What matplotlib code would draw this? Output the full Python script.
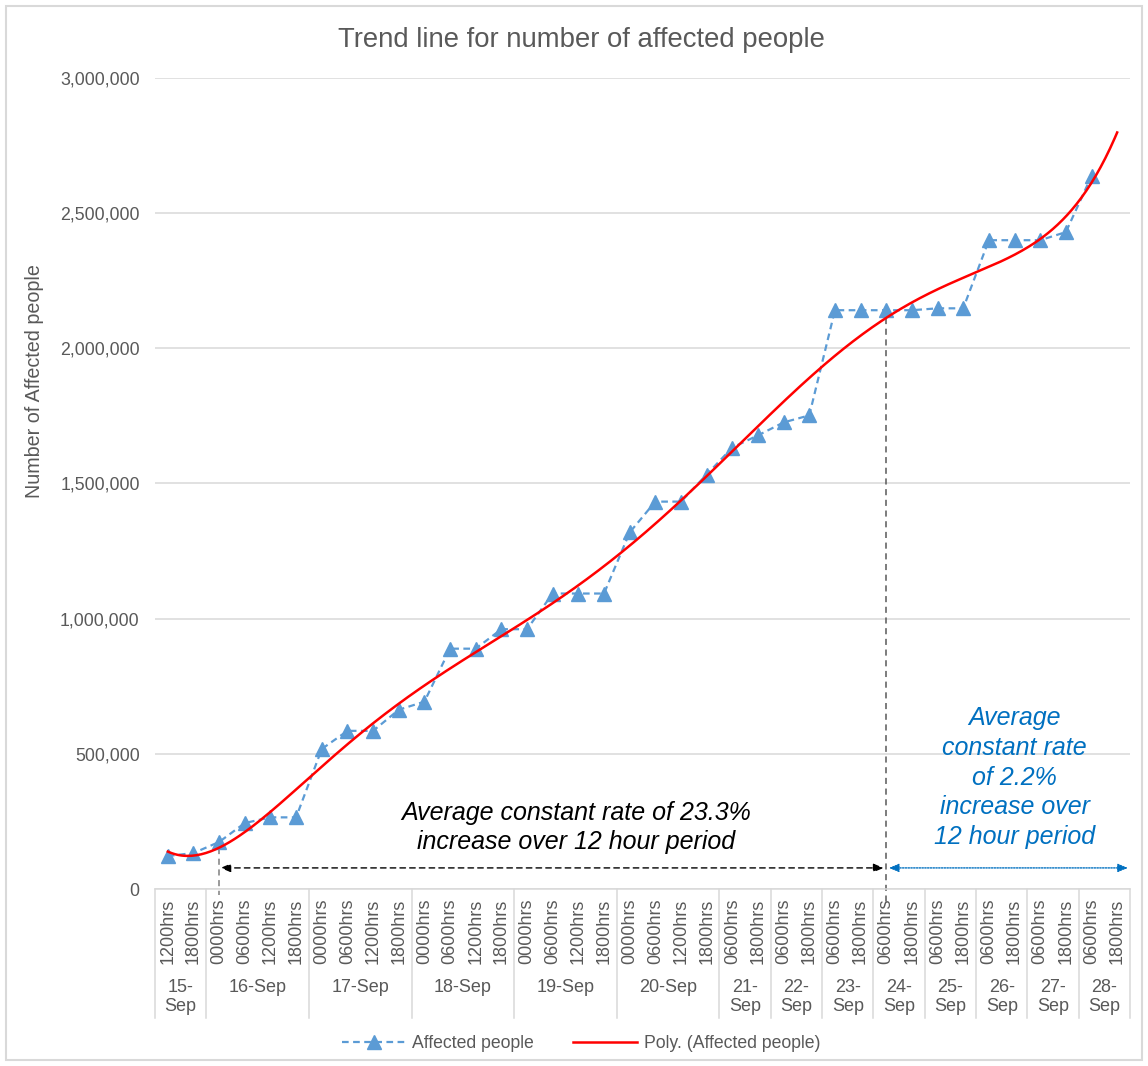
import numpy as np
import matplotlib
matplotlib.use("Agg")
import matplotlib.pyplot as plt
from matplotlib.lines import Line2D
from matplotlib.patches import Rectangle
from matplotlib.ticker import FuncFormatter

plt.rcParams['font.family'] = ['Liberation Sans', 'DejaVu Sans']

# Reporting times (inner axis level) and the days they belong to (outer level)
hour_labels = ["1200hrs", "1800hrs",
               "0000hrs", "0600hrs", "1200hrs", "1800hrs",
               "0000hrs", "0600hrs", "1200hrs", "1800hrs",
               "0000hrs", "0600hrs", "1200hrs", "1800hrs",
               "0000hrs", "0600hrs", "1200hrs", "1800hrs",
               "0000hrs", "0600hrs", "1200hrs", "1800hrs",
               "0600hrs", "1800hrs", "0600hrs", "1800hrs",
               "0600hrs", "1800hrs", "0600hrs", "1800hrs",
               "0600hrs", "1800hrs", "0600hrs", "1800hrs",
               "0600hrs", "1800hrs", "0600hrs", "1800hrs"]
day_labels = ["15-\nSep", "16-Sep", "17-Sep", "18-Sep", "19-Sep", "20-Sep",
              "21-\nSep", "22-\nSep", "23-\nSep", "24-\nSep", "25-\nSep",
              "26-\nSep", "27-\nSep", "28-\nSep"]
day_sizes = [2, 4, 4, 4, 4, 4, 2, 2, 2, 2, 2, 2, 2, 2]

# Reported number of affected people at each reporting time
affected = [122000, 133000, 174000, 244000, 265000, 265000,
            518000, 585000, 585000, 663000, 693000,
            889000, 889000, 961000, 961000,
            1093000, 1093000, 1093000,
            1319000, 1433000, 1433000,
            1533000, 1633000, 1678000, 1726000, 1752000,
            2141000, 2141000, 2141000, 2141000, 2148000, 2148000,
            2400000, 2400000, 2400000, 2430000, 2637000]

poly_order = 6
rate_start_idx = 2     # 16-Sep 0000hrs
rate_change_idx = 28   # 24-Sep 0600hrs

W, H = 1148, 1066
fig = plt.figure(figsize=(W / 100, H / 100), dpi=100)
L, R, T, B = 155, 1130, 78, 889
ax = fig.add_axes([L / W, (H - B) / H, (R - L) / W, (B - T) / H])

grey = "#595959"
light = "#d9d9d9"
blue = "#5B9BD5"

n_cat = len(hour_labels)
x_data = np.arange(len(affected))

# polynomial trend line fitted to reported values (1-based category index)
coef = np.polyfit(x_data + 1.0, np.array(affected, dtype=float), poly_order)
x_fine = np.linspace(0, n_cat - 1, 400)
trend = np.polyval(coef, x_fine + 1.0)

ax.plot(x_data, affected, linestyle=(0, (3, 2)), color=blue, lw=1.6,
        marker="^", markersize=10, markerfacecolor=blue, markeredgecolor=blue,
        zorder=3)
ax.plot(x_fine, trend, color="#FF0000", lw=1.8, zorder=4)

ax.set_xlim(-0.5, n_cat - 0.5)
ax.set_ylim(0, 3000000)
ax.set_yticks(np.arange(0, 3000001, 500000))
ax.yaxis.set_major_formatter(FuncFormatter(lambda v, p: f"{int(v):,}"))
ax.tick_params(axis="y", length=0, pad=11, labelsize=12.8, labelcolor=grey)
ax.set_xticks([])
ax.grid(axis="y", color=light, lw=1.1)
ax.set_axisbelow(True)
for s in ["top", "right", "left"]:
    ax.spines[s].set_visible(False)
ax.spines["bottom"].set_color(light)
ax.spines["bottom"].set_linewidth(1.1)

# multi-level category axis
ph = B - T
tr = ax.get_xaxis_transform()
box_bottom = -(1018 - B) / ph
for i, lab in enumerate(hour_labels):
    ax.text(i, -(899 - B) / ph, lab, transform=tr, rotation=90, ha="center",
            va="top", fontsize=13, color=grey, clip_on=False)
edges = np.concatenate([[0], np.cumsum(day_sizes)]) - 0.5
for e in edges:
    ax.plot([e, e], [0, box_bottom], transform=tr, color=light, lw=1.1,
            clip_on=False)
for k, lab in enumerate(day_labels):
    c = (edges[k] + edges[k + 1]) / 2
    ax.text(c, -(979 - B) / ph, lab, transform=tr, ha="center", va="top",
            fontsize=13, color=grey, linespacing=1.12, clip_on=False)

# annotations
y_start = np.polyval(coef, rate_start_idx + 1.0)
y_change = np.polyval(coef, rate_change_idx + 1.0)
arrow_y = 78000
ax.plot([rate_start_idx, rate_start_idx], [y_start, -22000], color="#7f7f7f",
        lw=1.1, linestyle=(0, (4, 3)), clip_on=False, zorder=2)
ax.plot([rate_change_idx, rate_change_idx], [y_change, -60000], color="#595959",
        lw=1.1, linestyle=(0, (4, 3)), clip_on=False, zorder=2)
ax.annotate("", xy=(rate_start_idx + 0.05, arrow_y),
            xytext=(rate_change_idx - 0.1, arrow_y),
            arrowprops=dict(arrowstyle="<|-|>,head_length=0.6,head_width=0.25",
                            color="black", lw=1.0, linestyle=(0, (4, 3)),
                            shrinkA=0, shrinkB=0))
ax.annotate("", xy=(rate_change_idx + 0.1, arrow_y),
            xytext=(n_cat - 0.58, arrow_y),
            arrowprops=dict(arrowstyle="<|-|>,head_length=0.6,head_width=0.25",
                            color="#0070C0", lw=1.0, linestyle=(0, (1, 1)),
                            shrinkA=0, shrinkB=0), annotation_clip=False)
ax.text(15.9, 227000, "Average constant rate of 23.3%\nincrease over 12 hour period",
        ha="center", va="center", fontsize=18, style="italic", color="black",
        linespacing=1.3)
ax.text(33.0, 412000, "Average\nconstant rate\nof 2.2%\nincrease over\n12 hour period",
        ha="center", va="center", fontsize=18, style="italic", color="#0070C0",
        linespacing=1.3)

fig.text(581 / W, 1 - 40 / H, "Trend line for number of affected people",
         ha="center", va="center", fontsize=19.8, color=grey)
fig.text(35 / W, 1 - 381 / H, "Number of Affected people", rotation=90,
         ha="center", va="center", fontsize=14.2, color=grey)

handles = [Line2D([], [], linestyle=(0, (3, 2)), color=blue, lw=1.6, marker="^",
                  markersize=10, markerfacecolor=blue, markeredgecolor=blue),
           Line2D([], [], color="#FF0000", lw=1.8)]
leg = fig.legend(handles, ["Affected people", "Poly. (Affected people)"],
                 loc="center", bbox_to_anchor=(581 / W, 22 / H), ncol=2,
                 frameon=False, fontsize=12.7, handlelength=3.6,
                 columnspacing=2.2, handletextpad=0.4)
for t in leg.get_texts():
    t.set_color(grey)

fig.patches.append(Rectangle((6 / W, 6 / H), (W - 12) / W, (H - 12) / H,
                             transform=fig.transFigure, fill=False,
                             edgecolor=light, lw=1.5))

fig.savefig("out.png", dpi=100)
